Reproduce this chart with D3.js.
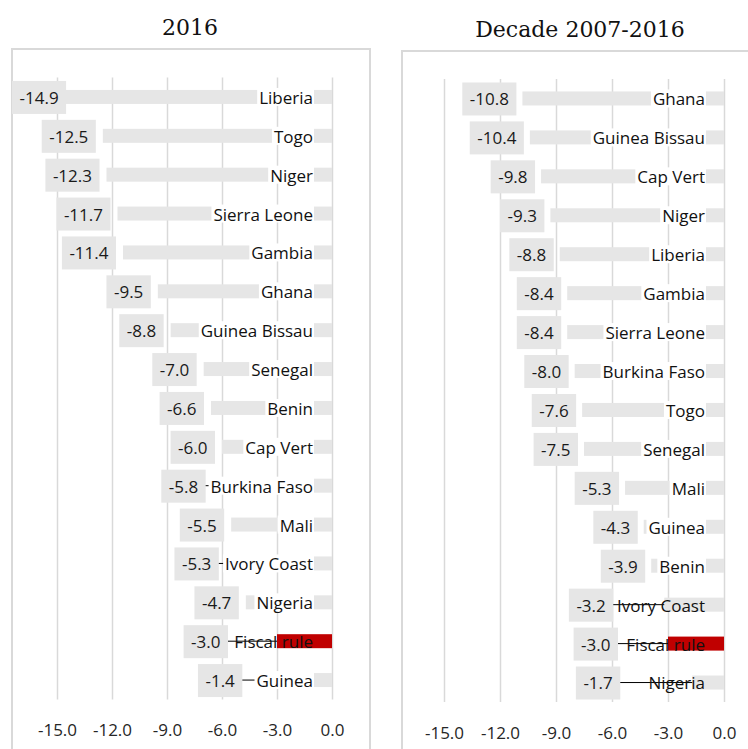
<!DOCTYPE html>
<html>
<head>
<meta charset="utf-8">
<script src="https://cdn.jsdelivr.net/npm/d3@7"></script>
<style>
  body { margin: 0; background: #fff; }
  text { font-family: "Open Sans", sans-serif; }
</style>
</head>
<body>
<div id="chart"></div>
<script>
// 2016 balance values
var names2016 = ["Liberia", "Togo", "Niger", "Sierra Leone", "Gambia", "Ghana", "Guinea Bissau", "Senegal",
  "Benin", "Cap Vert", "Burkina Faso", "Mali", "Ivory Coast", "Nigeria", "Fiscal rule", "Guinea"];
var values2016 = [-14.9, -12.5, -12.3, -11.7, -11.4, -9.5, -8.8, -7.0, -6.6, -6.0, -5.8, -5.5, -5.3, -4.7, -3.0, -1.4];

// decade average 2007-2016
var namesDecade = ["Ghana", "Guinea Bissau", "Cap Vert", "Niger", "Liberia", "Gambia", "Sierra Leone", "Burkina Faso",
  "Togo", "Senegal", "Mali", "Guinea", "Benin", "Ivory Coast", "Fiscal rule", "Nigeria"];
var valuesDecade = [-10.8, -10.4, -9.8, -9.3, -8.8, -8.4, -8.4, -8.0, -7.6, -7.5, -5.3, -4.3, -3.9, -3.2, -3.0, -1.7];

var tickValues = [-15, -12, -9, -6, -3, 0];

var svg = d3.select("#chart")
  .append("svg")
  .attr("width", 748)
  .attr("height", 749);

// panels: frame, title and plot area
var panels = [
  {
    title: "2016", names: names2016, values: values2016,
    frame: [12, 49, 358, 720], titleX: 190, titleY: 35,
    xRange: [57, 332], yRange: [77.5, 699.5], gap: 7, minX: 12,
    // labels pushed left with a leader line (extra px)
    shift: {"Burkina Faso": 13, "Ivory Coast": 9, "Fiscal rule": 42, "Guinea": 57},
    clear: ["Fiscal rule"]
  },
  {
    title: "Decade 2007-2016", names: namesDecade, values: valuesDecade,
    frame: [402, 51, 400, 720], titleX: 580, titleY: 37,
    xRange: [444, 724], yRange: [79, 702], gap: 6, minX: 402,
    shift: {"Ivory Coast": 45, "Fiscal rule": 44, "Nigeria": 66},
    clear: ["Ivory Coast", "Fiscal rule", "Nigeria"]
  }
];

panels.forEach(function(p) {
  var data = p.names.map(function(n, i) { return {name: n, value: p.values[i]}; });

  var x = d3.scaleLinear().domain([-15, 0]).range(p.xRange);
  var y = d3.scaleBand()
    .domain(p.names)
    .range(p.yRange)
    .paddingInner(0.64)
    .paddingOuter(0.32);

  var g = svg.append("g");

  g.append("rect")
    .attr("x", p.frame[0]).attr("y", p.frame[1])
    .attr("width", p.frame[2]).attr("height", p.frame[3])
    .attr("fill", "none")
    .attr("stroke", "#d9d9d9")
    .attr("stroke-width", 2);

  g.append("text")
    .attr("x", p.titleX).attr("y", p.titleY)
    .attr("text-anchor", "middle")
    .style("font-family", "'DejaVu Serif', serif")
    .style("font-size", "22px")
    .attr("fill", "#111")
    .text(p.title);

  // gridlines + tick labels
  var axis = d3.axisBottom(x).tickValues(tickValues)
    .tickSize(-(p.yRange[1] - p.yRange[0]))
    .tickFormat(d3.format(".1f"));
  var ax = g.append("g")
    .attr("transform", "translate(0," + p.yRange[1] + ")")
    .call(axis);
  ax.select(".domain").remove();
  ax.selectAll("line").attr("stroke", "#d9d9d9").attr("stroke-width", 1.5);
  ax.selectAll("text")
    .attr("y", 31)
    .attr("dy", "0.35em")
    .style("font-size", "17px")
    .attr("fill", "#262626")
    .text(function(d) { return d3.format(".1f")(d).replace("−", "-"); });

  // bars
  g.selectAll(".bar")
    .data(data)
    .enter()
    .append("rect")
    .attr("class", "bar")
    .attr("x", function(d) { return x(d.value); })
    .attr("y", function(d) { return y(d.name); })
    .attr("width", function(d) { return x(0) - x(d.value); })
    .attr("height", y.bandwidth())
    .attr("fill", function(d) { return d.name === "Fiscal rule" ? "#c00000" : "#e6e6e6"; });

  // value label boxes
  var valGroups = g.selectAll(".val")
    .data(data)
    .enter()
    .append("g")
    .attr("class", "val");

  valGroups.each(function(d) {
    var grp = d3.select(this);
    var cy = y(d.name) + y.bandwidth() / 2;
    var t = grp.append("text")
      .attr("dy", "0.35em")
      .attr("y", cy + 1)
      .attr("text-anchor", "middle")
      .style("font-size", "17px")
      .attr("fill", "#1a1a1a")
      .text(d.value.toFixed(1));
    var w = t.node().getComputedTextLength() + 15;
    var right = x(d.value) - p.gap - (p.shift[d.name] || 0);
    var left = Math.max(p.minX, right - w);
    right = left + w;
    grp.insert("rect", "text")
      .attr("x", left).attr("y", cy - 16)
      .attr("width", w).attr("height", 33)
      .attr("fill", "#e6e6e6");
    t.attr("x", left + w / 2);
    d.boxRight = right;
    d.cy = cy;
  });

  // leader lines
  g.selectAll(".leader")
    .data(data.filter(function(d) { return p.shift[d.name]; }))
    .enter()
    .append("line")
    .attr("x1", function(d) { return d.boxRight; })
    .attr("x2", function(d) { return x(d.value); })
    .attr("y1", function(d) { return d.cy; })
    .attr("y2", function(d) { return d.cy; })
    .attr("stroke", "#000")
    .attr("stroke-width", 1);

  // category labels near zero
  var catGroups = g.selectAll(".cat")
    .data(data)
    .enter()
    .append("g")
    .attr("class", "cat");

  catGroups.each(function(d) {
    var grp = d3.select(this);
    var t = grp.append("text")
      .attr("x", x(0) - 19)
      .attr("y", d.cy + 1)
      .attr("dy", "0.35em")
      .attr("text-anchor", "end")
      .style("font-size", "17px")
      .attr("fill", "#111")
      .text(d.name);
    if (p.clear.indexOf(d.name) < 0) {
      var w = t.node().getComputedTextLength();
      grp.insert("rect", "text")
        .attr("x", x(0) - 19 - w - 2)
        .attr("y", d.cy - 9)
        .attr("width", w + 3)
        .attr("height", 18)
        .attr("fill", "#fff");
    }
  });
});
</script>
</body>
</html>
